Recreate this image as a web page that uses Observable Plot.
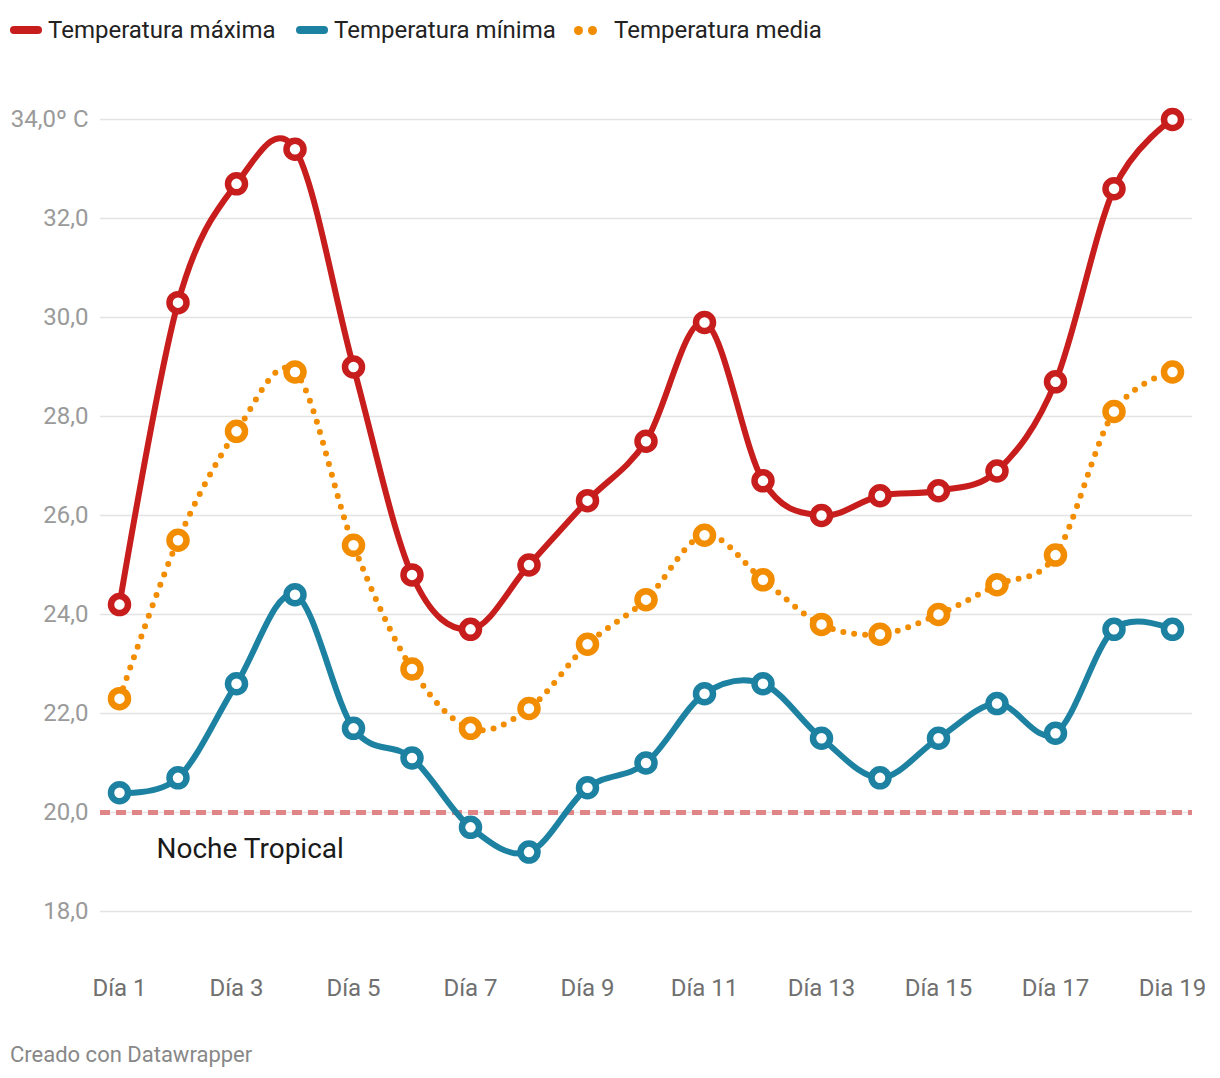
<!DOCTYPE html>
<html>
<head>
<meta charset="utf-8">
<script src="https://cdn.jsdelivr.net/npm/d3@7"></script>
<script src="https://cdn.jsdelivr.net/npm/@observablehq/plot@0.6"></script>
<style>
  html, body { margin: 0; padding: 0; background: #fff; font-family: Roboto, sans-serif; }
  #wrap { position: relative; width: 1220px; height: 1078px; overflow: hidden; }
  #legend { position: absolute; left: 0; top: 0; height: 60px; width: 1220px; }
  .li { position: absolute; top: 14px; font-size: 24px; color: #222; line-height: 32px; white-space: nowrap; }
  .sw { position: absolute; height: 8px; border-radius: 4px; }
  .dot { position: absolute; width: 9px; height: 9px; border-radius: 50%; background: #f28c00; }
  #chart { position: absolute; left: 0; top: 60px; }
  #credit { position: absolute; left: 10px; top: 1041px; font-size: 22px; color: #888; line-height: 28px; }
</style>
</head>
<body>
<div id="wrap">
  <div id="legend"></div>
  <div id="chart"></div>
  <div id="credit">Creado con Datawrapper</div>
</div>
<script>
const days = d3.range(1, 20);
const tmax = [24.2, 30.3, 32.7, 33.4, 29.0, 24.8, 23.7, 25.0, 26.3, 27.5, 29.9, 26.7, 26.0, 26.4, 26.5, 26.9, 28.7, 32.6, 34.0];
const tmin = [20.4, 20.7, 22.6, 24.4, 21.7, 21.1, 19.7, 19.2, 20.5, 21.0, 22.4, 22.6, 21.5, 20.7, 21.5, 22.2, 21.6, 23.7, 23.7];
const tmed = [22.3, 25.5, 27.7, 28.9, 25.4, 22.9, 21.7, 22.1, 23.4, 24.3, 25.6, 24.7, 23.8, 23.6, 24.0, 24.6, 25.2, 28.1, 28.9];
const seriesNames = ["Temperatura máxima", "Temperatura mínima", "Temperatura media"];
const seriesColors = ["#c71e1d", "#1d81a2", "#f28c00"];
const xTicks = [1, 3, 5, 7, 9, 11, 13, 15, 17, 19];
const xTickLabels = ["Día 1", "Día 3", "Día 5", "Día 7", "Día 9", "Día 11", "Día 13", "Día 15", "Día 17", "Dia 19"];
const yTicks = [18, 20, 22, 24, 26, 28, 30, 32, 34];
const threshold = 20;
const annotationText = "Noche Tropical";

const maxData = days.map((d, i) => ({day: d, v: tmax[i]}));
const minData = days.map((d, i) => ({day: d, v: tmin[i]}));
const medData = days.map((d, i) => ({day: d, v: tmed[i]}));

// legend
const legend = document.getElementById("legend");
legend.innerHTML = `
  <div class="sw" style="left:10px;top:26px;width:32px;background:${seriesColors[0]}"></div>
  <div class="li" style="left:48px">${seriesNames[0]}</div>
  <div class="sw" style="left:296px;top:26px;width:32px;background:${seriesColors[1]}"></div>
  <div class="li" style="left:334px">${seriesNames[1]}</div>
  <div class="dot" style="left:574px;top:26px"></div>
  <div class="dot" style="left:588px;top:26px"></div>
  <div class="li" style="left:614px">${seriesNames[2]}</div>
`;

const W = 6;
const R = 8.5, SW = 6.5;
const chart = Plot.plot({
  width: 1220,
  height: 940,
  marginLeft: 100,
  marginRight: 28,
  marginTop: 59,
  marginBottom: 89,
  insetLeft: 19,
  insetRight: 20,
  style: {fontFamily: "Roboto, sans-serif", fontSize: "24px", background: "#fff", overflow: "visible"},
  x: {domain: [1, 19]},
  y: {domain: [18, 34]},
  marks: [
    Plot.gridY(yTicks, {stroke: "#e3e3e3", strokeOpacity: 1, strokeWidth: 1.5}),
    Plot.axisY(yTicks, {
      tickSize: 0, tickPadding: 12, label: null, fill: "#9a9a9a", fontSize: 24,
      tickFormat: d => d === 34 ? "34,0º C" : d.toFixed(1).replace(".", ",")
    }),
    Plot.axisX(xTicks, {
      tickSize: 0, tickPadding: 0, dy: 67, label: null, fill: "#707070", fontSize: 24,
      tickFormat: d => xTickLabels[xTicks.indexOf(d)]
    }),
    Plot.ruleY([threshold], {stroke: "#e08585", strokeWidth: 5, strokeDasharray: "10 6"}),
    Plot.text([{day: 1, v: threshold, t: annotationText}], {
      x: "day", y: "v", text: "t", dx: 37, dy: 37, textAnchor: "start", fill: "#1a1a1a", fontSize: 28
    }),
    Plot.line(maxData, {x: "day", y: "v", curve: "cardinal", stroke: seriesColors[0], strokeWidth: W}),
    Plot.line(minData, {x: "day", y: "v", curve: "cardinal", stroke: seriesColors[1], strokeWidth: W}),
    Plot.line(medData, {x: "day", y: "v", curve: "cardinal", stroke: seriesColors[2], strokeWidth: W, strokeDasharray: "0 11", strokeLinecap: "round"}),
    Plot.dot(maxData, {x: "day", y: "v", r: R, fill: "white", stroke: seriesColors[0], strokeWidth: SW}),
    Plot.dot(minData, {x: "day", y: "v", r: R, fill: "white", stroke: seriesColors[1], strokeWidth: SW}),
    Plot.dot(medData, {x: "day", y: "v", r: R, fill: "white", stroke: seriesColors[2], strokeWidth: SW})
  ]
});
document.getElementById("chart").appendChild(chart);
</script>
</body>
</html>
